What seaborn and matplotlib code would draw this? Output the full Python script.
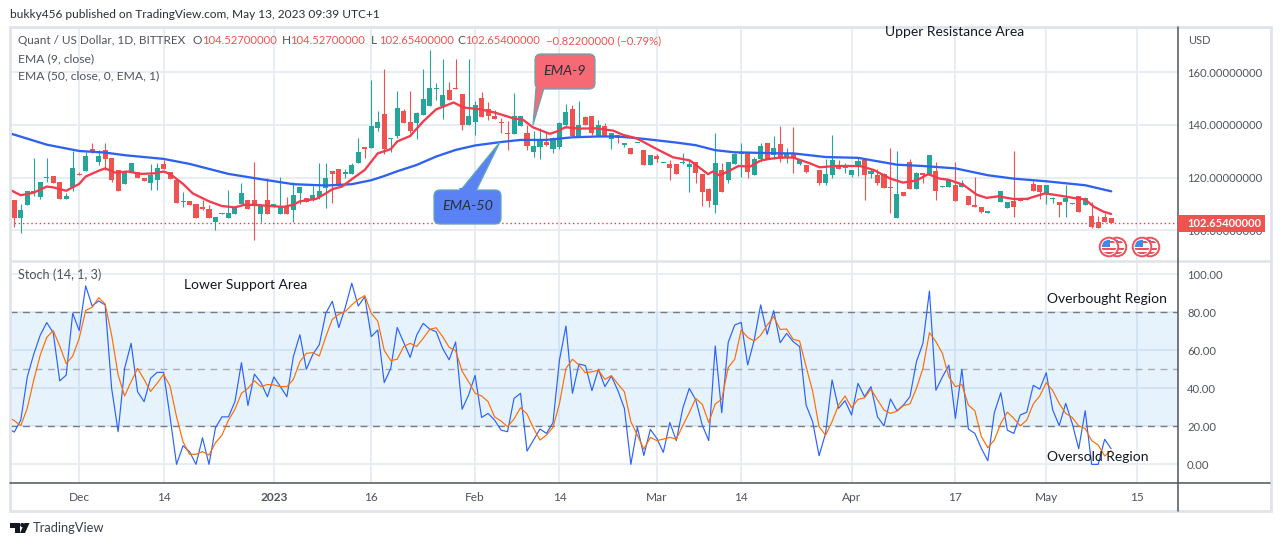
import matplotlib
matplotlib.use('Agg')
import matplotlib.pyplot as plt
from matplotlib.patches import Rectangle, Circle, Polygon, FancyBboxPatch
import seaborn as sns
import numpy as np
import pandas as pd

nan = float('nan')

# candles, one entry per daily bar
opens = [111.5,104.7,109.7,114.6,112.8,119.8,120.6,118.3,112,116.6,
         121.4,122.6,130.8,125.9,130.5,127.5,122.9,117.6,122.1,122.1,
         119.9,118.1,119.1,125.2,122.1,119.1,110.7,111,110,108.7,
         108,103.3,106.3,104.7,106.2,110,111.5,111.5,106.2,111.5,
         108.7,106.2,109.2,107.7,114.3,112.1,111.8,112.8,116,122.4,
         123.3,121.4,121.4,125.7,131.5,131.2,138.8,144.2,134.7,135.6,
         145.3,141.1,140.6,143.9,147.2,153.6,147.2,153.3,154,151.8,
         140,141.1,150.3,146.2,143.4,141,136.9,136.6,139.6,137.1,
         129.7,131.8,133.5,131,131.8,140.1,145.9,135.9,142.9,143.4,
         135.8,139.5,134.8,136.3,132.5,131.3,133,130.3,124.9,128.2,
         125.4,125.2,125.2,125.5,124.2,125.8,121.4,115.8,109.7,122.7,
         119.1,125.2,128.8,129.2,121.1,127,133,128.6,132.8,127.7,
         129,125.2,124.9,122.9,122.9,117.8,121.1,124.7,123.6,121.1,
         124.4,126.7,121.5,121.1,121.4,116.4,104.8,114.7,125.9,115.8,
         121.6,121,122.5,116.6,116.6,117.3,116.3,113,109.5,108.9,
         106.7,nan,110.9,108.6,111.3,112,111.8,117.5,117.2,113.9,
         111.9,110.8,110.9,110.1,113,109.7,105.4,103.2,105.1,104.527]
closes = [104.7,107.7,114.8,114.8,118.3,120.2,118.1,112,113,123.7,
          120.8,128.2,130.2,128.2,127.2,118.9,115,122.1,125.4,119.9,
          118.8,121.1,123.7,123.4,119.4,110.5,111,109.7,104.7,108.2,
          104.7,104.9,106.5,106.5,108.7,114.2,108.1,109.5,109.2,106.2,
          110,108.7,106.2,113.4,116.6,110.7,113.3,114.9,119.9,121.4,
          117.1,122.1,124.7,129.7,131,139.6,141.1,130.8,135,146.3,
          140.9,137.6,144.7,149.9,153.9,153.9,151.4,149.5,153.7,140,
          143.4,147.6,143,143.4,142.4,140.8,136.6,143.4,143.2,132,
          132,134,132.4,135,140.9,144.9,135.8,140,139.9,136.8,
          140,135.6,136.8,135,133,129,133.1,124.7,128.6,127.2,
          125.5,123.8,121.4,125.7,125.2,121.6,114.6,111,125.6,114.6,
          126,129,129,122.1,127,131.9,127.2,131.3,127,129.2,
          127.5,126.7,122.3,122.7,118.1,121.4,126.7,123.4,123.9,122.9,
          126.3,121.1,122.4,118,116.1,116.2,113.8,113,115.7,121.8,
          120.9,128.5,115,116.8,118.9,111.3,117.8,109.7,109,107,
          107.2,nan,114.8,110.8,109,111.3,111.5,115,114.7,117.1,
          112.2,109.7,112.4,110.4,107,112.2,101.4,100.9,103.2,102.654]
highs = [111.5,110,114.8,127.5,118.3,127.5,120.6,118.3,114.3,130.2,
         122.1,129.8,133.3,130.5,133,127.5,122.9,122.1,125.4,122.1,
         119.9,125,125.4,126.7,122.1,119.1,114.5,111,110,111.5,
         109.6,104.9,106.5,115.3,108.7,118.1,111.5,125.9,109.2,119.7,
         110,120.4,112.8,118.5,116.6,112.1,116.8,125.7,125.4,122.4,
         123.3,123.4,125.7,135,131.5,157,145.4,161.1,135,152.9,
         146,152.9,144.9,161.3,168.5,156,164.9,156.2,164.9,151.8,
         164.9,149,152.5,148.5,145.7,142.5,141.6,152,143.4,140,
         137.5,139,136.8,135.5,141,148,147.6,149.1,143.5,143.4,
         141.9,140.9,137,136.3,133,131.3,133.1,130.3,128.6,129,
         125.5,126.7,125.2,129.2,126.7,125.8,121.4,116,136.8,125.4,
         126,129.2,133,129.3,128,133.3,133,135.8,139.4,131.3,
         139.2,126.8,124.9,122.9,122.9,127,136.2,126.7,125.7,123,
         127.3,127.5,123.7,123.2,121.6,131.3,130,114.7,127,122.3,
         121.6,128.5,126,116.8,119.3,126,119,113,120.1,108.9,
         107.2,nan,114.8,110.8,130.1,112,111.8,118.6,117.2,117.2,
         112.8,110.8,117.2,110.4,113,112.8,110.8,105.4,106.5,104.527]
lows = [101.4,99.1,109.7,113,111.8,118.3,118,112,112,115,
        120.8,122.6,129.2,124.9,122.9,118.5,115,117.6,122.1,119.9,
        118.8,115.3,115.3,123.4,119.4,110.5,109,109.7,104.7,107.7,
        104.7,100.1,106.3,104.7,106.2,110,108.1,96.3,103.2,106.2,
        108.7,106.2,106.2,103.2,110,110.7,111,112,108.5,110.5,
        117.1,119.9,121.4,125.7,127.4,131.2,137.5,128.8,129.9,135,
        140.9,137,134.7,143.9,147,149.5,142.4,149.5,153.7,138,
        140,136.3,143,141.9,142.4,136.8,130.3,136.6,139.6,130.3,
        127.7,127,132,129.5,131,139,135.8,135.9,139.9,136,
        135.8,135.6,131,133.3,131.5,129,133,124.7,124.9,126,
        125.4,118.9,121.4,125,114.6,118.1,109.2,109,106.7,114.6,
        118.1,125,120.4,119.9,121.1,126,127.2,127,126,125.7,
        121.9,124.9,121.9,122.7,117.3,117.3,120,123.4,121.8,120.2,
        120.6,111.5,120,117.3,116.1,106.7,104.8,113,115.7,115.8,
        118.1,121,111.5,116.6,116.6,111.3,116.3,109.7,109,106.6,
        106.7,nan,110.9,108.6,105.2,111.3,111.5,115,112,110.1,
        110.3,105.2,105.2,110.1,107,109.7,101,100.9,103.2,102.654]

# moving averages, vertices
ema9_bar = [-1,1,3,5,6,8,10,11,13,14,15.5,17.5,19.5,21.5,23,24,26,27.5,30,32,34,35.5,37.5,39.5,41.5,43,44,46.5,48,49,50.5,
            52,54,56,58,59,61,63,65,67.7,69.2,71.8,74,76.9,78.4,79.9,82.5,83.6,84.9,87.2,89.7,92.3,93.8,95.9,99,101.5,
            104.1,106.9,107.6,108.7,111.6,113.4,115,116.4,118,120,122.6,124.1,126.4,130.3,132.4,134.9,136.9,139,140.8,
            142.6,143.9,146.2,148.3,149.8,151.6,153.9,156,158.8,161,163.2,165,166.3,167.8,169]
ema9 = [115.8,113.3,114.3,116.6,116.3,115,117.6,120.4,122.6,123.5,121.9,122.3,121.4,121.6,122.3,121.4,117.6,114,111,109.2,108.7,109.7,109.6,109.2,108.9,109.7,111,111.9,114,115.6,116.6,
        119.4,122.9,129.2,130.8,133.7,135.8,141.3,145.9,148.5,146.6,145.9,144.7,142.5,141.9,139.1,136.6,137.5,139.1,138.6,138.7,137.8,136.2,134.9,130.8,127.7,
        126.5,121.3,122.3,120.8,124.4,124.2,126.5,127.1,127.6,127.6,125.4,123.9,124.4,124.4,122.9,119.7,118.1,118.9,121.3,
        119.6,119.2,117.3,113.5,112.3,112.9,111.9,111.9,114,113.2,112.3,111.7,109,107.1,106.2]
ema50_bar = [-1,0,5,10,14,17,23,27,33,38,43,48,52,55,57,59,62,65,68,71,75,78,82,86,90,93,97,102,105,108,111,118,120,125,130,136,140,145,150,154,159,165,169]
ema50 = [137,136.3,132.5,130.1,129.5,128.5,127.1,125.2,121.4,119.4,117.5,117,117.5,119,120.6,122.4,124.8,128,130.5,132.2,133.5,134.3,134.3,135.3,135.6,135.6,134.7,133.3,132.3,130.4,129.6,129.2,129.2,127.8,127.5,124.9,124.4,123.5,120.9,119.6,118.6,117.1,114.8]

# stochastic, first value is the bar left of the first candle
stoch_k = [19,
           17,23.3,46,58,68,74.6,69.3,43.9,47,79.5,
           70.4,93.9,83.3,86,83.9,40,17.2,50.5,63.7,38.2,
           33,45.3,48.4,48.4,25,0,9.8,6.7,0,14,
           0,19.3,25,25,33,53.5,31,47.5,43,35.6,
           46,40.9,35.6,56.7,68.2,50,57.9,63,79.5,85.8,
           72,82.6,95.3,83.3,88.2,67.2,70.7,43,50.5,72,
           64.2,56.3,68,74.2,71.2,69.8,61,55,64.4,29,
           36.5,46.8,24.7,26.8,23.3,18,17.2,34.7,37.4,7,
           12.8,18.6,16.3,21.9,54.9,72.8,37.4,52.8,52,38.8,
           50,40.9,46.5,38.8,29.5,0,19.5,4.7,18.4,13.7,
           6.3,22,12.5,29.5,40,33.9,20.7,12.5,62.3,27.2,
           64.2,73.3,74.7,52.3,65.4,83.9,68.4,80.9,64,68.9,
           64.6,62,31.2,22.5,4.6,16.3,44.4,29.5,33.5,26,
           42.6,35.6,40.9,25,20.3,34.4,28.2,31.2,35.6,54,
           63.7,91.2,39,46,52.2,24.2,50,18.6,16.3,8.4,
           1.9,27.2,37.7,18,16.3,26,27.4,41.6,39.6,48.2,
           28.6,20.4,32.1,21.6,8.2,28.2,0,0,13.2,8.2]
stoch_d = [25,
           23,20.4,29.5,44.4,57.5,66.8,70.4,62.3,53,57,
           66.3,81,82.6,87.7,84.4,68,47,36,43.5,50.5,
           44.7,38.4,42.6,47.4,41.2,25,11.9,5.3,5.3,6.7,
           4.9,11.4,15.4,23.3,29,37.4,40,44,40.9,42,
           41.8,40.9,40.9,44.7,54,58.4,58.8,57,67.2,76.3,
           79,80.4,83.9,86.8,88.8,79.5,75.4,60,54.6,55.3,
           62,63.7,62,66.3,71,71.9,67.2,61.6,59.8,49,
           43.5,37.4,36,33,25,22.8,19.8,23.9,29.8,26.5,
           19,12.8,15.4,19.5,32,50.5,55.3,52.3,48.2,48.7,
           49.6,44.7,46.7,42.3,38.2,22.5,15.4,8,14.2,12.5,
           13.3,14.2,13.3,20.4,27.2,34.7,31.6,22,31.8,34.2,
           51,55.3,70.7,66.8,64.9,67.9,73.3,77.7,71,71.2,
           65.8,64.9,51.4,38.6,19.8,15.4,22.5,31.2,36,29.8,
           34.2,35,39.6,33.9,28.6,26.8,28,30.9,31.8,40,
           50.5,69.3,64.6,58.4,46,40.9,42,31.2,28.2,14.6,
           8.8,12.8,21.6,27.5,24.2,20.2,23.3,31.8,36,43,
           38.8,32,26.8,24.7,20.2,18.9,12.5,10.2,4.4,7.2]

tick_bars = [10, 23, 40, 55, 71, 84, 99, 112, 129, 145, 159, 173]
tick_labels = ['Dec', '14', '2023', '16', 'Feb', '14', 'Mar', '14', 'Apr', '17', 'May', '15']
price_ticks = [100, 120, 140, 160]
stoch_ticks = [0, 20, 40, 60, 80, 100]
last_price = 102.654

UP = '#26A69A'
DOWN = '#EF5350'
GRID = '#E6ECF2'
TEXT = '#50535E'
BORDER = '#E0E3EB'
W, H = 1280, 546

sns.set_theme(style='white')
plt.rcParams['font.family'] = ['Lato', 'DejaVu Sans']
plt.rcParams['axes.unicode_minus'] = False

fig = plt.figure(figsize=(12.8, 5.46), dpi=100)
ax = fig.add_axes([10/W, (H-260)/H, 1168/W, 233/H])
ax2 = fig.add_axes([10/W, (H-483)/H, 1168/W, 222/H])
xlim = (-0.66, 179.3)

# candles
df = pd.DataFrame({'o': opens, 'h': highs, 'l': lows, 'c': closes})
df['bar'] = df.index
df['col'] = np.where(df.c >= df.o, UP, DOWN)
ax.vlines(df.bar, df.l, df.h, colors=df.col, lw=0.8, zorder=3)
body_min = df[['o', 'c']].min(axis=1)
body_h = (df.c - df.o).abs().clip(lower=0.35)
ax.bar(df.bar, body_h, bottom=body_min, width=0.78, color=df.col, linewidth=0, zorder=3)

sns.lineplot(x=ema50_bar, y=ema50, ax=ax, color='#2D62F0', lw=1.65, estimator=None, sort=False, zorder=4)
sns.lineplot(x=ema9_bar, y=ema9, ax=ax, color='#F23B4C', lw=1.65, estimator=None, sort=False, zorder=5)
ax.axhline(last_price, color='#EF3B3B', lw=1.0, ls=(0, (1, 2)), zorder=2)

ax.set_xlim(*xlim)
ax.set_ylim(88.73, 177.15)
ax.set_yticks(price_ticks)
ax.set_yticklabels([f'{v:.8f}' for v in price_ticks])

# stochastic pane
stoch_bar = np.arange(-1, 170)
ax2.axhspan(20, 80, color='#2196F3', alpha=0.11, lw=0, zorder=1)
for lvl, col in [(80, '#787B86'), (50, '#A8ABB3'), (20, '#787B86')]:
    ax2.axhline(lvl, color=col, lw=1.0, ls=(0, (5, 4)), zorder=2)
sns.lineplot(x=stoch_bar, y=stoch_k, ax=ax2, color='#2962FF', lw=0.85, estimator=None, sort=False, zorder=4)
sns.lineplot(x=stoch_bar, y=stoch_d, ax=ax2, color='#FF6D00', lw=0.85, estimator=None, sort=False, zorder=5)
ax2.set_xlim(*xlim)
ax2.set_ylim(-9.8, 107)
ax2.set_yticks(stoch_ticks)
ax2.set_yticklabels([f'{v:.2f}' for v in stoch_ticks])
ax2.set_xticks(tick_bars)
ax2.set_xticklabels(tick_labels)

for a in (ax, ax2):
    a.set_xlabel('')
    a.set_ylabel('')
    a.yaxis.tick_right()
    a.grid(True, color=GRID, lw=1.3, zorder=0)
    a.set_axisbelow(True)
    a.tick_params(axis='y', length=0, pad=6.5, labelsize=8.1, labelcolor=TEXT)
    for s in a.spines.values():
        s.set_visible(False)
ax.set_xticks(tick_bars)
ax.tick_params(axis='x', length=0, labelbottom=False)
ax2.tick_params(axis='x', length=0, pad=6.5, labelsize=8.6, labelcolor=TEXT)
ax2.get_xticklabels()[2].set_fontweight('bold')

# overlay in pixel coordinates for frame, labels and callouts
ov = fig.add_axes([0, 0, 1, 1], zorder=10)
ov.set_xlim(0, W)
ov.set_ylim(H, 0)
ov.axis('off')

ov.add_patch(Rectangle((9.5, 26.5), 1261, 484.5, fc='none', ec=BORDER, lw=2))
ov.plot([10, 1270], [261, 261], color=BORDER, lw=1.8)
ov.plot([1178, 1178], [27, 511], color=TEXT, lw=1.1)
ov.plot([10, 1270], [483, 483], color=TEXT, lw=1.1)


def label(x, y, s, color=TEXT, size=8.1, **kw):
    ov.text(x, y, s, color=color, fontsize=size, va='center', ha=kw.pop('ha', 'left'), **kw)


label(10, 14.5, 'bukky456 published on TradingView.com, May 13, 2023 09:39 UTC+1', color='#2A2E39', size=8.55)
label(18, 41, 'Quant / US Dollar, 1D, BITTREX', size=8.5)
label(18, 59, 'EMA (9, close)', size=8.7)
label(18, 76, 'EMA (50, close, 0, EMA, 1)', size=8.7)
label(18, 275, 'Stoch (14, 1, 3)', size=9.1)
label(192.7, 41, 'O', size=8.6)
label(202, 41, '104.52700000', color=DOWN)
label(281.7, 41, 'H', size=8.6)
label(290.5, 41, '104.52700000', color=DOWN)
label(370.7, 41, 'L', size=8.6)
label(379, 41, '102.65400000', color=DOWN)
label(457, 41, 'C', size=8.6)
label(465.5, 41, '102.65400000', color=DOWN)
label(545.5, 41, '\u22120.82200000 (\u22120.79%)', color=DOWN)
label(1188, 41, 'USD', size=8)

for x, y, s in [(885, 32, 'Upper Resistance Area'), (184, 285, 'Lower Support Area'),
                (1047, 299, 'Overbought Region'), (1047, 457, 'Oversold Region')]:
    label(x, y, s, color='#131722', size=10)

# last price tag
ov.add_patch(Rectangle((1178, 215), 87, 17, fc=DOWN, ec='none', zorder=5))
ov.text(1187, 223.5, '102.65400000', color='white', fontsize=8.0, fontweight='bold', va='center', zorder=6)

# callouts
ov.add_patch(Polygon([(536, 88), (544, 88), (533, 125)], fc='#F56A75', ec='#5FA8B5', lw=0.9, zorder=3))
ov.add_patch(FancyBboxPatch((539, 58), 52, 27, boxstyle='round,pad=4,rounding_size=6', fc='#F56A75', ec='#5FA8B5', lw=0.9, zorder=3))
ov.add_patch(Polygon([(537, 86), (544, 86), (540, 95)], fc='#F56A75', ec='none', zorder=4))
ov.text(565, 71, 'EMA-9', color='#2A2E39', fontsize=10.4, style='italic', ha='center', va='center', zorder=5)
ov.add_patch(Polygon([(460, 191), (476, 191), (500, 142)], fc='#5A82F5', ec='#5FA8B5', lw=0.9, zorder=3))
ov.add_patch(FancyBboxPatch((438, 194), 59, 26, boxstyle='round,pad=4,rounding_size=6', fc='#5A82F5', ec='#5FA8B5', lw=0.9, zorder=3))
ov.add_patch(Polygon([(459, 188), (477, 188), (473, 196), (463, 196)], fc='#5A82F5', ec='none', zorder=4))
ov.text(467.5, 206.5, 'EMA-50', color='#2A2E39', fontsize=10.4, style='italic', ha='center', va='center', zorder=5)


def flag(cx, cy, z):
    ring = Circle((cx, cy), 9.3, fc='white', ec='#F0505A', lw=1.4, zorder=z)
    ov.add_patch(ring)
    clip = Circle((cx, cy), 7.2, transform=ov.transData)
    for dy, col in [(-6, '#F0505A'), (-2, 'white'), (1, '#F0505A'), (4.5, '#F0505A')]:
        r = Rectangle((cx-8, cy+dy), 16, 2, fc=col, ec='none', zorder=z)
        ov.add_patch(r)
        r.set_clip_path(clip)
    r = Rectangle((cx-8, cy-8), 9, 8, fc='#3D8BEA', ec='none', zorder=z)
    ov.add_patch(r)
    r.set_clip_path(clip)


for i, cx in enumerate([1117, 1109, 1150, 1142]):
    flag(cx, 247, 6 + i)

# TradingView logo
ov.add_patch(Polygon([(10, 523), (19.5, 523), (19.5, 533), (15, 533), (15, 527.5), (10, 527.5)], fc='#131722', ec='none'))
ov.add_patch(Circle((22.3, 525), 2.1, fc='#131722', ec='none'))
ov.add_patch(Polygon([(24.5, 523), (29.5, 523), (25, 533), (20, 533)], fc='#131722', ec='none'))
label(33, 528, 'TradingView', color='#3A3E49', size=9.3)

fig.savefig('out.png', dpi=100)
